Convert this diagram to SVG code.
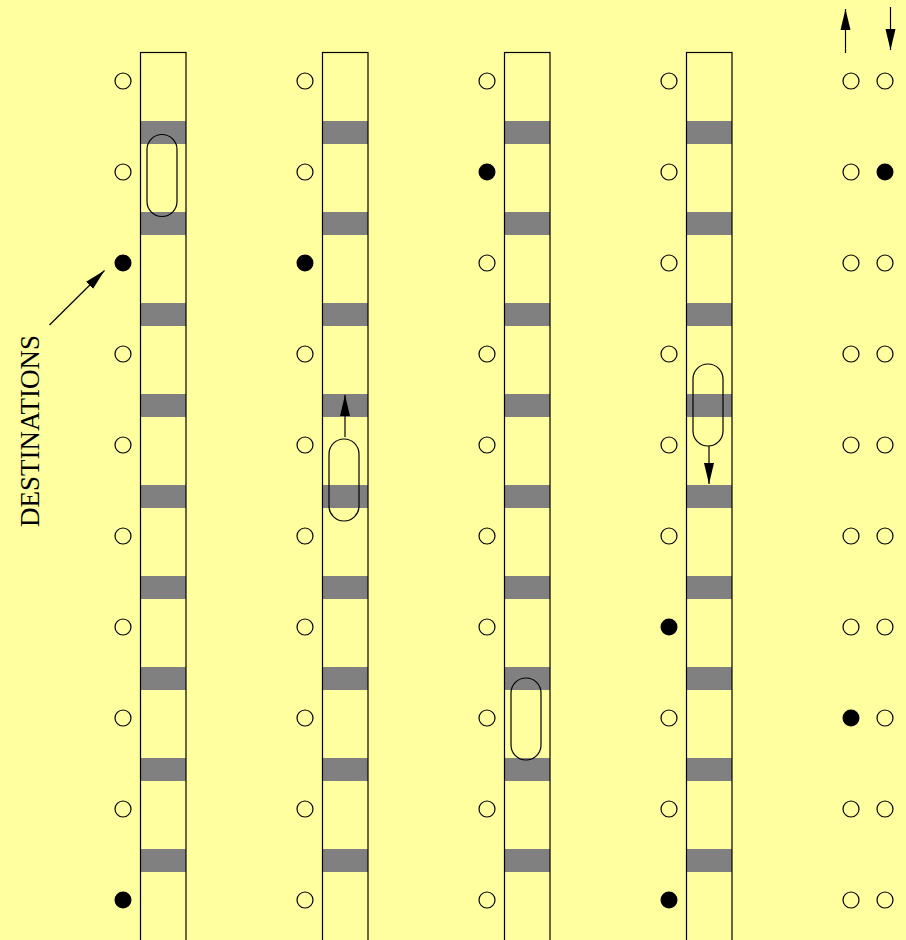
<svg xmlns="http://www.w3.org/2000/svg" width="906" height="940" viewBox="0 0 906 940">
<style>
.shaft{fill:none;stroke:#000;stroke-width:1.2}
.bar{fill:#808080}
.o{fill:none;stroke:#000;stroke-width:1.2}
.f{fill:#000}
.cap{fill:none;stroke:#000;stroke-width:1.2}
.ar{stroke:#000;stroke-width:1.2;fill:none;marker-end:url(#ah)}
.lbl{font-family:"Liberation Serif","Times New Roman",serif;font-size:27px;fill:#000}
</style>
<defs>
<marker id="ah" markerUnits="userSpaceOnUse" markerWidth="22" markerHeight="12" refX="21" refY="5" orient="auto" viewBox="0 0 22 10">
<path d="M0,0 L21,5 L0,10 Z" fill="#000"/>
</marker>
<g id="bars">
<rect class="bar" x="0" y="121" width="45.5" height="23"/>
<rect class="bar" x="0" y="212" width="45.5" height="23"/>
<rect class="bar" x="0" y="303" width="45.5" height="23"/>
<rect class="bar" x="0" y="394" width="45.5" height="23"/>
<rect class="bar" x="0" y="485" width="45.5" height="23"/>
<rect class="bar" x="0" y="576" width="45.5" height="23"/>
<rect class="bar" x="0" y="667" width="45.5" height="23"/>
<rect class="bar" x="0" y="758" width="45.5" height="23"/>
<rect class="bar" x="0" y="849" width="45.5" height="23"/>
</g>
</defs>
<rect width="906" height="940" fill="#ffffa0"/>

<g id="shaft1">
<use href="#bars" x="140.5"/>
<rect class="shaft" x="140.5" y="52.5" width="45.5" height="900"/>
<rect class="cap" x="147" y="134.5" width="30" height="82" rx="15" ry="15"/>
</g>
<g id="shaft2">
<use href="#bars" x="322.5"/>
<rect class="shaft" x="322.5" y="52.5" width="45.5" height="900"/>
<rect class="cap" x="329" y="439" width="30" height="82" rx="15" ry="15"/>
</g>
<g id="shaft3">
<use href="#bars" x="504.5"/>
<rect class="shaft" x="504.5" y="52.5" width="45.5" height="900"/>
<rect class="cap" x="511" y="678" width="30" height="82" rx="15" ry="15"/>
</g>
<g id="shaft4">
<use href="#bars" x="686.5"/>
<rect class="shaft" x="686.5" y="52.5" width="45.5" height="900"/>
<rect class="cap" x="693" y="364" width="30" height="82" rx="15" ry="15"/>
</g>

<g id="col1">
<circle class="o" cx="123" cy="81" r="8"/>
<circle class="o" cx="123" cy="172" r="8"/>
<circle class="f" cx="123" cy="263" r="8.5"/>
<circle class="o" cx="123" cy="354" r="8"/>
<circle class="o" cx="123" cy="445" r="8"/>
<circle class="o" cx="123" cy="536" r="8"/>
<circle class="o" cx="123" cy="627" r="8"/>
<circle class="o" cx="123" cy="718" r="8"/>
<circle class="o" cx="123" cy="809" r="8"/>
<circle class="f" cx="123" cy="900" r="8.5"/>
</g>
<g id="col2">
<circle class="o" cx="305" cy="81" r="8"/>
<circle class="o" cx="305" cy="172" r="8"/>
<circle class="f" cx="305" cy="263" r="8.5"/>
<circle class="o" cx="305" cy="354" r="8"/>
<circle class="o" cx="305" cy="445" r="8"/>
<circle class="o" cx="305" cy="536" r="8"/>
<circle class="o" cx="305" cy="627" r="8"/>
<circle class="o" cx="305" cy="718" r="8"/>
<circle class="o" cx="305" cy="809" r="8"/>
<circle class="o" cx="305" cy="900" r="8"/>
</g>
<g id="col3">
<circle class="o" cx="487" cy="81" r="8"/>
<circle class="f" cx="487" cy="172" r="8.5"/>
<circle class="o" cx="487" cy="263" r="8"/>
<circle class="o" cx="487" cy="354" r="8"/>
<circle class="o" cx="487" cy="445" r="8"/>
<circle class="o" cx="487" cy="536" r="8"/>
<circle class="o" cx="487" cy="627" r="8"/>
<circle class="o" cx="487" cy="718" r="8"/>
<circle class="o" cx="487" cy="809" r="8"/>
<circle class="o" cx="487" cy="900" r="8"/>
</g>
<g id="col4">
<circle class="o" cx="669" cy="81" r="8"/>
<circle class="o" cx="669" cy="172" r="8"/>
<circle class="o" cx="669" cy="263" r="8"/>
<circle class="o" cx="669" cy="354" r="8"/>
<circle class="o" cx="669" cy="445" r="8"/>
<circle class="o" cx="669" cy="536" r="8"/>
<circle class="f" cx="669" cy="627" r="8.5"/>
<circle class="o" cx="669" cy="718" r="8"/>
<circle class="o" cx="669" cy="809" r="8"/>
<circle class="f" cx="669" cy="900" r="8.5"/>
</g>
<g id="col5up">
<circle class="o" cx="851" cy="81" r="8"/>
<circle class="o" cx="851" cy="172" r="8"/>
<circle class="o" cx="851" cy="263" r="8"/>
<circle class="o" cx="851" cy="354" r="8"/>
<circle class="o" cx="851" cy="445" r="8"/>
<circle class="o" cx="851" cy="536" r="8"/>
<circle class="o" cx="851" cy="627" r="8"/>
<circle class="f" cx="851" cy="718" r="8.5"/>
<circle class="o" cx="851" cy="809" r="8"/>
<circle class="o" cx="851" cy="900" r="8"/>
</g>
<g id="col5down">
<circle class="o" cx="885" cy="81" r="8"/>
<circle class="f" cx="885" cy="172" r="8.5"/>
<circle class="o" cx="885" cy="263" r="8"/>
<circle class="o" cx="885" cy="354" r="8"/>
<circle class="o" cx="885" cy="445" r="8"/>
<circle class="o" cx="885" cy="536" r="8"/>
<circle class="o" cx="885" cy="627" r="8"/>
<circle class="o" cx="885" cy="718" r="8"/>
<circle class="o" cx="885" cy="809" r="8"/>
<circle class="o" cx="885" cy="900" r="8"/>
</g>

<g id="label">
<text class="lbl" transform="translate(38.5,431) rotate(-90)" text-anchor="middle">DESTINATIONS</text>
</g>

<g id="connectors">
<line class="ar" x1="49.5" y1="325" x2="104.5" y2="270.5"/>
<line class="ar" x1="345" y1="437" x2="345" y2="395"/>
<line class="ar" x1="709" y1="446" x2="709" y2="484"/>
<line class="ar" x1="845.5" y1="53" x2="845.5" y2="9"/>
<line class="ar" x1="890.5" y1="7" x2="890.5" y2="50"/>
</g>
</svg>
